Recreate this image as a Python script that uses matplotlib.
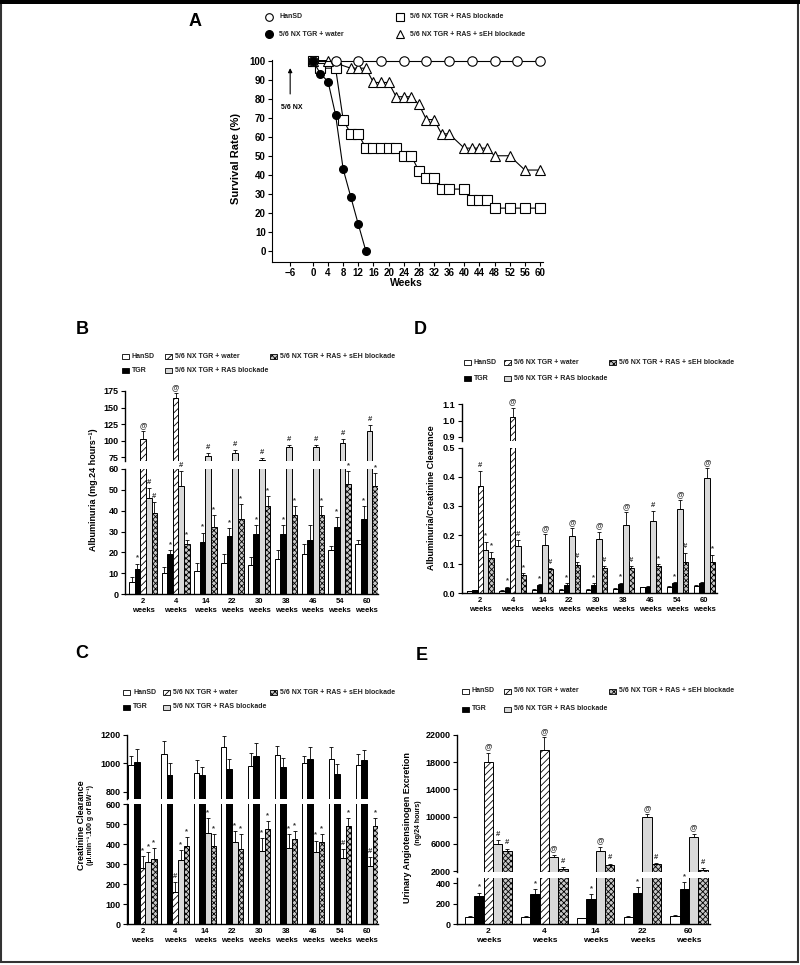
import matplotlib
matplotlib.use('Agg')
import matplotlib.pyplot as plt
from matplotlib.patches import Rectangle

plt.rcParams['font.family'] = ['Liberation Sans', 'DejaVu Sans']
plt.rcParams['font.weight'] = 'bold'
plt.rcParams['hatch.linewidth'] = 0.6

# ---------------- data ----------------
# panel A: survival
hansd_wk = [0, 6, 12, 18, 24, 30, 36, 42, 48, 54, 60]
hansd_surv = [100, 100, 100, 100, 100, 100, 100, 100, 100, 100, 100]
water_wk = [0, 2, 4, 6, 8, 10, 12, 14]
water_surv = [100, 93, 89, 71.5, 43, 28.5, 14, 0]
ras_wk = [0, 2, 6, 8, 10, 12, 14, 16, 18, 20, 22, 24, 26, 28, 30, 32, 34, 36, 40, 42, 44, 46, 48, 52, 56, 60]
ras_surv = [100, 96, 96, 69, 61.5, 61.5, 54, 54, 54, 54, 54, 50, 50, 42, 38.5, 38.5, 32.5, 32.5, 32.5,
            27, 27, 27, 22.5, 22.5, 22.5, 22.5]
seh_wk = [0, 4, 10, 12, 14, 16, 18, 20, 22, 24, 26, 28, 30, 32, 34, 36, 40, 42, 44, 46, 48, 52, 56, 60]
seh_surv = [100, 100, 96, 96, 96, 88.5, 88.5, 88.5, 81, 81, 81, 77, 69, 69, 61.5, 61.5, 54, 54, 54, 54,
            50, 50, 42.5, 42.5]

weeks9 = ['2', '4', '14', '22', '30', '38', '46', '54', '60']
weeks5 = ['2', '4', '14', '22', '60']

# panel B: albuminuria
b_hansd = [6, 10, 11, 15, 14, 17, 19, 21, 24]
b_hansd_err = [2, 3, 4, 4, 4, 4, 5, 2, 2]
b_tgr = [12, 19, 25, 28, 29, 29, 26, 32, 36]
b_tgr_err = [2.5, 2, 4.5, 3.5, 4, 4, 7, 5, 6]
b_tgr_mk = ['*', '*', '*', '*', '*', '*', '', '*', '*']
b_water = [102, 165, None, None, None, None, None, None, None]
b_water_err = [13, 7, 0, 0, 0, 0, 0, 0, 0]
b_water_mk = ['@', '@', '', '', '', '', '', '', '']
b_ras = [46, 52, 77, 81, 71, 90, 90, 96, 115]
b_ras_err = [5, 7, 4, 5, 3, 3, 3, 7, 9]
b_ras_mk = ['#', '#', '#', '#', '#', '#', '#', '#', '#']
b_seh = [39, 24, 32, 36, 42, 38, 38, 53, 52]
b_seh_err = [5, 2, 6, 7, 5, 4, 4, 6, 6]
b_seh_mk = ['#', '*', '*', '*', '*', '*', '*', '*', '*']

# panel C: creatinine clearance
c_hansd = [988, 1066, 934, 1113, 981, 1059, 1000, 1031, 988]
c_hansd_err = [64, 94, 90, 80, 90, 63, 52, 82, 78]
c_tgr = [1007, 918, 918, 958, 1052, 976, 1028, 925, 1024]
c_tgr_err = [92, 87, 58, 70, 89, 59, 85, 70, 70]
c_water = [280, 162, None, None, None, None, None, None, None]
c_water_err = [62, 50, 0, 0, 0, 0, 0, 0, 0]
c_water_mk = ['*', '#', '', '', '', '', '', '', '']
c_ras = [313, 320, 458, 410, 368, 380, 360, 330, 290]
c_ras_err = [47, 52, 72, 55, 62, 70, 58, 45, 45]
c_ras_mk = ['*', '*', '*', '*', '*', '*', '*', '#', '#']
c_seh = [327, 390, 392, 378, 478, 425, 412, 490, 493]
c_seh_err = [53, 45, 58, 72, 37, 40, 38, 42, 37]
c_seh_mk = ['*', '*', '*', '*', '*', '*', '*', '*', '*']

# panel D: albuminuria / creatinine clearance
d_hansd = [0.007, 0.008, 0.012, 0.013, 0.013, 0.016, 0.02, 0.022, 0.025]
d_hansd_err = [0.002, 0.002, 0.002, 0.002, 0.002, 0.002, 0.002, 0.002, 0.003]
d_tgr = [0.01, 0.018, 0.027, 0.03, 0.03, 0.032, 0.022, 0.035, 0.036]
d_tgr_err = [0.002, 0.005, 0.004, 0.004, 0.004, 0.004, 0.003, 0.004, 0.004]
d_tgr_mk = ['', '*', '*', '*', '*', '*', '', '*', '']
d_water = [0.368, 1.02, None, None, None, None, None, None, None]
d_water_err = [0.052, 0.06, 0, 0, 0, 0, 0, 0, 0]
d_water_mk = ['#', '@', '', '', '', '', '', '', '']
d_ras = [0.15, 0.163, 0.167, 0.198, 0.187, 0.233, 0.247, 0.29, 0.395]
d_ras_err = [0.027, 0.02, 0.035, 0.027, 0.025, 0.047, 0.037, 0.03, 0.035]
d_ras_mk = ['*', '#', '@', '@', '@', '@', '#', '@', '@']
d_seh = [0.121, 0.063, 0.082, 0.096, 0.088, 0.088, 0.093, 0.108, 0.107]
d_seh_err = [0.022, 0.005, 0.006, 0.01, 0.007, 0.007, 0.007, 0.032, 0.026]
d_seh_mk = ['*', '*', '#', '#', '#', '#', '*', '#', '*']

# panel E: urinary angiotensinogen
e_hansd = [75, 70, 60, 70, 80]
e_hansd_err = [8, 8, 6, 15, 15]
e_tgr = [275, 300, 250, 310, 350]
e_tgr_err = [35, 45, 45, 55, 60]
e_tgr_mk = ['*', '*', '*', '*', '*']
e_water = [18000, 19800, None, None, None]
e_water_err = [1400, 1900, 0, 0, 0]
e_water_mk = ['@', '@', '', '', '']
e_ras = [6000, 4000, 5000, 10000, 7000]
e_ras_err = [500, 400, 600, 400, 500]
e_ras_mk = ['#', '@', '@', '@', '@']
e_seh = [5000, 2300, 2900, 3000, 2200]
e_seh_err = [300, 300, 200, 200, 300]
e_seh_mk = ['#', '#', '#', '#', '#']

# ---------------- styles ----------------
st_hansd = dict(facecolor='white')
st_tgr = dict(facecolor='black')
st_water = dict(facecolor='white', hatch='/////')
st_ras = dict(facecolor='#d9d9d9')
st_seh = dict(facecolor='#c8c8c8', hatch='xxxxxx')

W, H = 800, 965
fig = plt.figure(figsize=(8, 9.65), dpi=100)

bg = fig.add_axes([0, 0, 1, 1], zorder=-1)
bg.set_xlim(0, W)
bg.set_ylim(H, 0)
bg.axis('off')
bg.add_patch(Rectangle((1, 1), W - 3, H - 4, fill=False, edgecolor='#333333', lw=1.5))
bg.add_patch(Rectangle((0, 0), W, 4, facecolor='black', edgecolor='none'))


def px_axes(l, t, r, b):
    ax = fig.add_axes([l / W, 1 - b / H, (r - l) / W, (b - t) / H])
    ax.patch.set_visible(False)
    return ax


def leg_item(x, y, st, label):
    bg.add_patch(Rectangle((x, y - 2.5), 6.5, 5, edgecolor='black', lw=0.6, **st))
    bg.text(x + 10, y, label, fontsize=5, va='center', ha='left', color='#222222')


def legend(x1, x2, x3, y1, y2):
    leg_item(x1, y1, st_hansd, 'HanSD')
    leg_item(x2, y1, st_water, '5/6 NX TGR + water')
    leg_item(x3, y1, st_seh, '5/6 NX TGR + RAS + sEH blockade')
    leg_item(x1, y2, st_tgr, 'TGR')
    leg_item(x2, y2, st_ras, '5/6 NX TGR + RAS blockade')


def style_axes(lo, hi, lo_ticks, hi_ticks, fmt):
    for ax in (lo, hi):
        for s in ('top', 'right'):
            ax.spines[s].set_visible(False)
        ax.spines['left'].set_linewidth(1.0)
        ax.tick_params(axis='y', direction='out', length=3, width=0.8, labelsize=6.5, pad=1.5)
        ax.tick_params(axis='x', length=0, labelsize=5.5, pad=3)
    hi.spines['bottom'].set_visible(False)
    hi.set_xticks([])
    lo.spines['bottom'].set_linewidth(1.0)
    lo.set_yticks(lo_ticks)
    hi.set_yticks(hi_ticks)
    lo.set_yticklabels([fmt(v) for v in lo_ticks])
    hi.set_yticklabels([fmt(v) for v in hi_ticks])


def draw_bars(lo, hi, series, gap, mfs=5.5):
    n = len(series[0][0])
    pos = 0.0
    centers = []
    split = lo.get_ylim()[1]
    for g in range(n):
        start = pos
        for vals, errs, marks, st in series:
            v = vals[g]
            if v is None:
                continue
            for ax in (lo, hi):
                ax.bar(pos, v, width=1, align='edge', edgecolor='black', lw=0.7, **st)
                ax.errorbar(pos + 0.5, v, yerr=[[0], [errs[g]]], fmt='none', ecolor='black',
                            elinewidth=0.6, capsize=1.5, capthick=0.6)
            top = v + errs[g]
            if marks is not None and marks[g]:
                ax = hi if top > split else lo
                ax.annotate(marks[g], (pos + 0.5, top), xytext=(0, 1.5), textcoords='offset points',
                            ha='center', va='bottom', fontsize=mfs, color='#333333')
            pos += 1
        centers.append((start + pos) / 2)
        pos += gap
    return centers


# ---------------- panel A ----------------
axA = px_axes(272, 60, 543, 262)
axA.plot(ras_wk, ras_surv, 's-', color='black', mfc='white', mec='black', ms=6.5, lw=0.8, mew=0.8, clip_on=False)
axA.plot(seh_wk, seh_surv, '^-', color='black', mfc='white', mec='black', ms=7, lw=0.8, mew=0.8, clip_on=False)
axA.plot(hansd_wk, hansd_surv, 'o-', color='black', mfc='white', mec='black', ms=6.8, lw=0.8, mew=0.8, clip_on=False)
axA.plot(water_wk, water_surv, 'o-', color='black', mfc='black', mec='black', ms=5.5, lw=0.8, clip_on=False)
axA.set_xlim(-10.8, 60.8)
axA.set_ylim(-5.8, 100.3)
axA.set_xticks([-6] + list(range(0, 61, 4)))
axA.set_yticks(range(0, 101, 10))
for s in ('top', 'right'):
    axA.spines[s].set_visible(False)
axA.tick_params(direction='out', length=3, width=0.8, labelsize=7, pad=1.5)
axA.annotate('', xy=(-6, 97.5), xytext=(-6, 81),
             arrowprops=dict(arrowstyle='-|>', lw=0.8, color='black', mutation_scale=6))
axA.text(-5.5, 75.5, '5/6 NX', ha='center', va='center', fontsize=5)
bg.text(236, 158, 'Survival Rate (%)', rotation=90, ha='center', va='center', fontsize=8)
bg.text(406, 283, 'Weeks', ha='center', va='center', fontsize=7.5)
bg.text(195, 22, 'A', ha='center', va='center', fontsize=13)

# legend A
bg.plot([269], [17], 'o', mfc='white', mec='black', ms=5.5, mew=0.8)
bg.plot([269], [34], 'o', mfc='black', mec='black', ms=5.5)
bg.plot([400], [17], 's', mfc='white', mec='black', ms=5.5, mew=0.8)
bg.plot([400], [34], '^', mfc='white', mec='black', ms=6, mew=0.8)
bg.text(279, 17, 'HanSD', fontsize=5, va='center', color='#222222')
bg.text(279, 34, '5/6 NX TGR + water', fontsize=5, va='center', color='#222222')
bg.text(410, 17, '5/6 NX TGR + RAS blockade', fontsize=5, va='center', color='#222222')
bg.text(410, 34, '5/6 NX TGR + RAS + sEH blockade', fontsize=5, va='center', color='#222222')

# ---------------- panel B ----------------
bHi = px_axes(125, 391, 378, 461)
bLo = px_axes(125, 469, 378, 594)
bLo.set_ylim(0, 60)
bHi.set_ylim(69.6, 175)
ctr = draw_bars(bLo, bHi, [
    (b_hansd, b_hansd_err, None, st_hansd),
    (b_tgr, b_tgr_err, b_tgr_mk, st_tgr),
    (b_water, b_water_err, b_water_mk, st_water),
    (b_ras, b_ras_err, b_ras_mk, st_ras),
    (b_seh, b_seh_err, b_seh_mk, st_seh)], 0.75)
for ax in (bLo, bHi):
    ax.set_xlim(-0.7, 44.0)
style_axes(bLo, bHi, range(0, 61, 10), range(75, 176, 25), lambda v: '%d' % v)
bLo.set_xticks(ctr)
bLo.set_xticklabels([w + '\nweeks' for w in weeks9], linespacing=1.3)
bg.text(82, 330, 'B', ha='center', va='center', fontsize=13)
bg.text(94, 490, 'Albuminuria (mg.24 hours\u207b\u00b9)', rotation=90, ha='center', va='center', fontsize=6.5)
legend(122, 165, 270, 356, 370)

# ---------------- panel C ----------------
cHi = px_axes(126.7, 735, 378.3, 799.3)
cLo = px_axes(126.7, 804.3, 378.3, 924.3)
cLo.set_ylim(0, 600)
cHi.set_ylim(747, 1200)
ctr = draw_bars(cLo, cHi, [
    (c_hansd, c_hansd_err, None, st_hansd),
    (c_tgr, c_tgr_err, None, st_tgr),
    (c_water, c_water_err, c_water_mk, st_water),
    (c_ras, c_ras_err, c_ras_mk, st_ras),
    (c_seh, c_seh_err, c_seh_mk, st_seh)], 0.75)
for ax in (cLo, cHi):
    ax.set_xlim(-0.3, 44.0)
style_axes(cLo, cHi, range(0, 601, 100), [800, 1000, 1200], lambda v: '%d' % v)
cLo.set_xticks(ctr)
cLo.set_xticklabels([w + '\nweeks' for w in weeks9], linespacing=1.3)
bg.text(82, 653, 'C', ha='center', va='center', fontsize=13)
bg.text(82, 825, 'Creatinine Clearance', rotation=90, ha='center', va='center', fontsize=6.5)
bg.text(91, 825, '(\u00b5l.min\u207b\u00b9.100 g of BW\u207b\u00b9)', rotation=90, ha='center', va='center', fontsize=5)
legend(123, 163, 270, 692, 707)

# ---------------- panel D ----------------
dHi = px_axes(461.7, 404.3, 717, 440.8)
dLo = px_axes(461.7, 447.7, 717, 593.3)
dLo.set_ylim(0, 0.5)
dHi.set_ylim(0.875, 1.1)
ctr = draw_bars(dLo, dHi, [
    (d_hansd, d_hansd_err, None, st_hansd),
    (d_tgr, d_tgr_err, d_tgr_mk, st_tgr),
    (d_water, d_water_err, d_water_mk, st_water),
    (d_ras, d_ras_err, d_ras_mk, st_ras),
    (d_seh, d_seh_err, d_seh_mk, st_seh)], 1.0)
for ax in (dLo, dHi):
    ax.set_xlim(-0.93, 46.35)
style_axes(dLo, dHi, [0, 0.1, 0.2, 0.3, 0.4, 0.5], [0.9, 1.0, 1.1], lambda v: '%.1f' % v)
dLo.set_xticks(ctr)
dLo.set_xticklabels([w + '\nweeks' for w in weeks9], linespacing=1.3)
bg.text(420, 330, 'D', ha='center', va='center', fontsize=13)
bg.text(432, 498, 'Albuminuria/Creatinine Clearance', rotation=90, ha='center', va='center', fontsize=6.5)
legend(464, 504, 609, 362, 378)

# ---------------- panel E ----------------
eHi = px_axes(456.7, 735, 710, 871.7)
eLo = px_axes(456.7, 878.3, 710, 924.3)
eLo.set_ylim(0, 450)
eHi.set_ylim(1900, 22000)
ctr = draw_bars(eLo, eHi, [
    (e_hansd, e_hansd_err, None, st_hansd),
    (e_tgr, e_tgr_err, e_tgr_mk, st_tgr),
    (e_water, e_water_err, e_water_mk, st_water),
    (e_ras, e_ras_err, e_ras_mk, st_ras),
    (e_seh, e_seh_err, e_seh_mk, st_seh)], 1.0)
for ax in (eLo, eHi):
    ax.set_xlim(-0.9, 26.26)
style_axes(eLo, eHi, [0, 200, 400], range(2000, 22001, 4000), lambda v: '%d' % v)
eLo.set_xticks(ctr)
eLo.set_xticklabels([w + '\nweeks' for w in weeks5], linespacing=1.3, fontsize=6)
bg.text(422, 655, 'E', ha='center', va='center', fontsize=13)
bg.text(408, 828, 'Urinary Angiotensinogen Excretion', rotation=90, ha='center', va='center', fontsize=6.5)
bg.text(418, 823, '(ng/24 hours)', rotation=90, ha='center', va='center', fontsize=5)
legend(462, 504, 609, 691, 709)

fig.savefig('out.png', dpi=100)
